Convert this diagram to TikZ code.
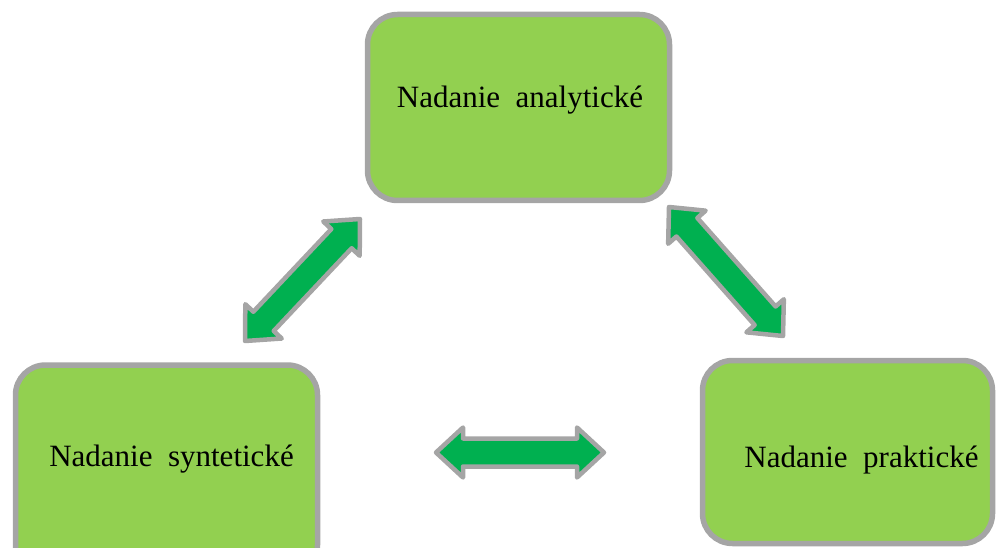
\documentclass[tikz,border=0pt]{standalone}
\usepackage{fontspec}
\setmainfont{Liberation Serif}
\usetikzlibrary{calc}
\definecolor{boxgreen}{HTML}{92D050}
\definecolor{boxgray}{HTML}{A5A5A5}
\definecolor{arrowgreen}{HTML}{00B050}
\tikzset{
  box/.style={draw=boxgray, line width=5.5pt, fill=boxgreen, rounded corners=30pt, inner sep=0pt},
  lbl/.style={anchor=base, inner sep=0pt, font=\fontsize{31}{37}\selectfont},
  barrow/.style={draw=boxgray, line width=4.5pt, fill=arrowgreen, line join=round}
}
\newcommand\ahl{27pt}
\newcommand\ahw{25pt}
\newcommand\asw{14pt}
\newcommand\blockarrow[2]{%
  \path ($(#1)!\ahl!(#2)$) coordinate (p1) ($(#2)!\ahl!(#1)$) coordinate (p2);
  \draw[barrow] (#1) -- ($(p1)!\ahw!90:(#2)$) -- ($(p1)!\asw!90:(#2)$)
    -- ($(p2)!\asw!-90:(#1)$) -- ($(p2)!\ahw!-90:(#1)$) -- (#2)
    -- ($(p2)!\ahw!90:(#1)$) -- ($(p2)!\asw!90:(#1)$)
    -- ($(p1)!\asw!-90:(#2)$) -- ($(p1)!\ahw!-90:(#2)$) -- cycle;}
\begin{document}
\begin{tikzpicture}[x=1pt,y=-1pt]
  \useasboundingbox (0,0) rectangle (996,548);
  \clip (0,0) rectangle (996,548);
  % boxes
  \node[box, minimum width=302pt, minimum height=186pt] (ana) at (518.5,107.5) {};
  \node[box, minimum width=302pt, minimum height=210pt] (syn) at (166.5,470) {};
  \node[box, minimum width=290pt, minimum height=183pt] (pra) at (847.5,452) {};
  % labels
  \node[lbl] (tana) at (520,108) {Nadanie\ \ analytické};
  \node[lbl] (tsyn) at (171.5,466) {Nadanie\ \ syntetické};
  \node[lbl] (tpra) at (861.5,467) {Nadanie\ \ praktické};
  % arrow end points
  \coordinate (l1) at (245,341);
  \coordinate (l2) at (360,219);
  \coordinate (r1) at (669,207);
  \coordinate (r2) at (783,336);
  \coordinate (h1) at (436,452.5);
  \coordinate (h2) at (604,452.5);
  \blockarrow{l1}{l2}
  \blockarrow{r1}{r2}
  \blockarrow{h1}{h2}
\end{tikzpicture}
\end{document}
